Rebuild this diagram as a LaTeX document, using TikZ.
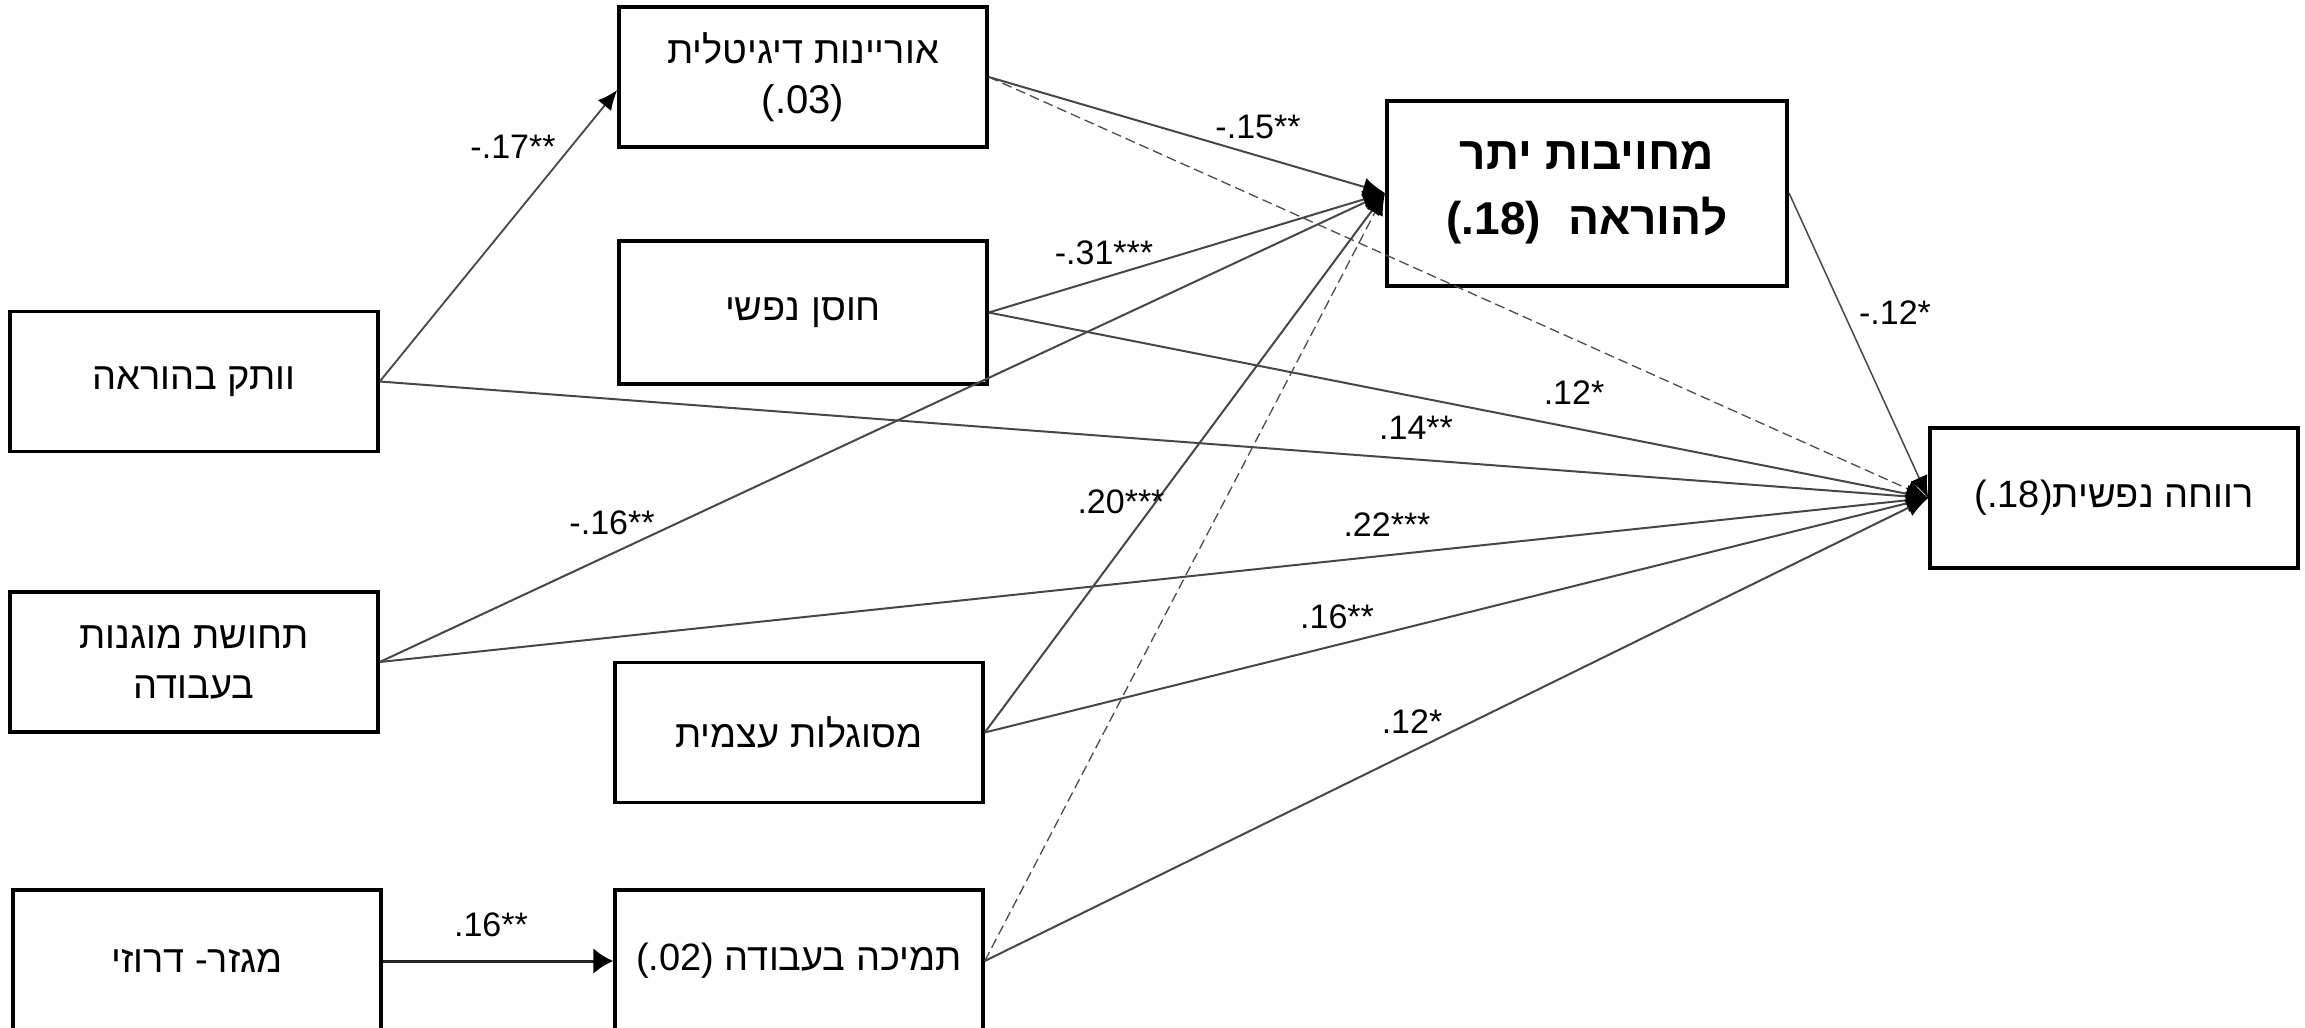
\documentclass[tikz,border=0pt]{standalone}
\usepackage{fontspec}
\setmainfont{Liberation Sans}
\newfontfamily\heb[Script=Hebrew]{Liberation Sans}
\TeXXeTstate=1
\usetikzlibrary{arrows.meta}
\newcommand\latnum[1]{\beginL{\rmfamily #1}\endL}
\begin{document}
\begin{tikzpicture}[x=1pt,y=-1pt,
  box/.style={draw=black, line width=3.5pt, inner sep=0pt, minimum width=368pt, minimum height=140pt, align=center, font=\heb\fontsize{38}{50}\selectfont},
  lbl/.style={font=\fontsize{34}{40}\selectfont, inner sep=0pt},
  link/.style={draw=black!72, line width=2pt, -{Latex[length=22pt,width=18pt,color=black]}},
  dlink/.style={draw=black!70, line width=1.3pt, dash pattern=on 10pt off 5pt, -{Latex[length=22pt,width=18pt,color=black]}}]
\clip (0,0) rectangle (2305,1028);
\fill[white] (0,0) rectangle (2305,1028);
% boxes
\node[box] (A) at (803,77) {\beginR אוריינות דיגיטלית\endR\\\latnum{\fontsize{40}{50}\selectfont(.03)}};
\node[box, minimum height=143pt] (B) at (803,312.5) {\beginR חוסן נפשי\endR};
\node[box] (C) at (194,381.5) {\beginR וותק בהוראה\endR};
\node[box] (D) at (194,662) {\beginR תחושת מוגנות\endR\\\beginR בעבודה\endR};
\node[box] (E) at (799,732.5) {\beginR מסוגלות עצמית\endR};
\node[box, minimum height=142pt] (F) at (197,961) {\beginR מגזר- דרוזי\endR};
\node[box, minimum height=142pt] (G) at (799,961) {\beginR תמיכה בעבודה \latnum{(.02)}\endR};
\node[box, minimum width=400pt, minimum height=185pt, line width=4pt, font=\heb\bfseries\fontsize{46}{65}\selectfont] (H) at (1587,193) {\beginR מחויבות יתר\endR\\\beginR להוראה\hspace{14pt} \latnum{(.18)}\endR};
\node[box] (I) at (2114,498) {\beginR רווחה נפשית\latnum{(.18)}\endR};
% connectors
\draw[link, line width=1.8pt, -{Latex[length=20pt,width=17pt,color=black]}] (C.east) -- ([yshift=-13pt]A.west);
\draw[link] (A.east) -- (H.west);
\draw[dlink] (A.east) -- (I.west);
\draw[link] (B.east) -- (H.west);
\draw[link] (B.east) -- (I.west);
\draw[link] (C.east) -- (I.west);
\draw[link] (D.east) -- (H.west);
\draw[link] (D.east) -- (I.west);
\draw[link] (E.east) -- (H.west);
\draw[link] (E.east) -- (I.west);
\draw[dlink] (G.east) -- (H.west);
\draw[link] (G.east) -- (I.west);
\draw[link, line width=1.5pt] (H.east) -- (I.west);
\draw[link, draw=black!85, line width=3pt, -{Latex[length=20pt,width=26pt,color=black]}] (F.east) -- (G.west);
% labels
\node[lbl] (l1) at (513,147) {-.17**};
\node[lbl] (l2) at (1258,127) {-.15**};
\node[lbl] (l3) at (1104,253) {-.31***};
\node[lbl] (l4) at (1895,313) {-.12*};
\node[lbl] (l5) at (1574,393) {.12*};
\node[lbl] (l6) at (1416,428) {.14**};
\node[lbl] (l7) at (1121,502) {.20***};
\node[lbl] (l8) at (1387,525) {.22***};
\node[lbl] (l9) at (1337,617) {.16**};
\node[lbl] (l10) at (1412,722) {.12*};
\node[lbl] (l11) at (612,523) {-.16**};
\node[lbl] (l12) at (491,925) {.16**};
\end{tikzpicture}
\end{document}
